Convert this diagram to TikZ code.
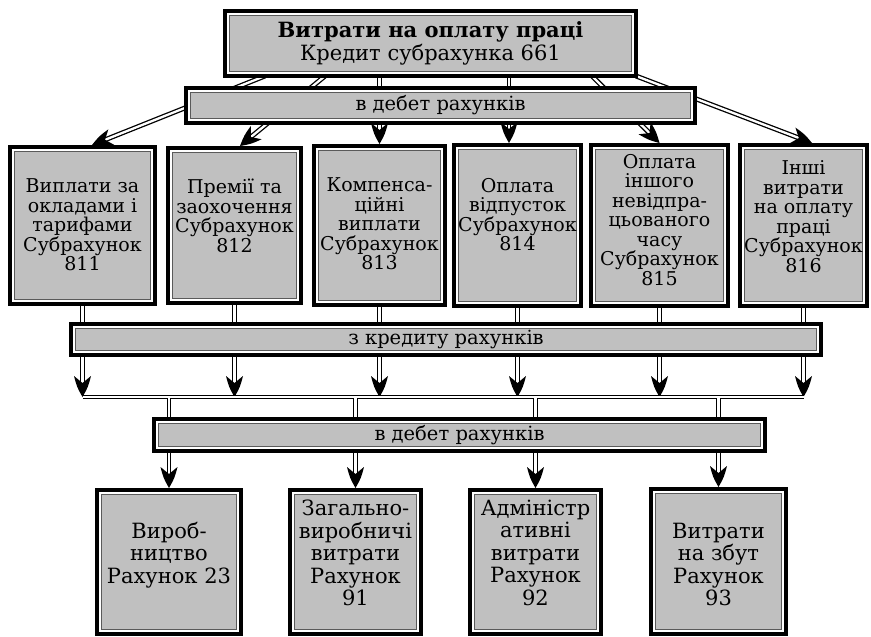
\documentclass[tikz,border=0pt]{standalone}
\usepackage{fontspec}
\setmainfont{DejaVu Serif}
\usetikzlibrary{calc}
\pgfdeclarelayer{links}
\pgfsetlayers{links,main}
\definecolor{panelgray}{HTML}{C0C0C0}
\definecolor{rimgray}{HTML}{5A5A5A}
% text block of a panel: width, height, space above the first line, lines
\newcommand\cell[4]{\parbox[c][#2pt][t]{#1pt}{\centering\vspace*{#3pt}#4\par}}
% double connector ending in a solid swept black head
\newcommand\arrowlink[2]{%
  \draw[link, shorten >=11pt] #1 -- #2;
  \coordinate (hb) at ($#2!21pt!#1$);
  \coordinate (hm) at ($#2!10pt!#1$);
  \coordinate (hn) at ($#2!14pt!#1$);
  \fill[black] #2 .. controls ($(hm)!5.6pt!90:#2$) .. ($(hb)!8.5pt!90:#2$)
    -- (hn) -- ($(hb)!8.5pt!-90:#2$) .. controls ($(hm)!5.6pt!-90:#2$) .. #2 -- cycle;}
\tikzset{
  panel/.style={draw=black, line width=4pt, fill=panelgray, inner sep=0pt, outer sep=0pt,
    path picture={
      \draw[white, line width=2pt]
        ([shift={(3pt,3pt)}]path picture bounding box.south west) rectangle
        ([shift={(-3pt,-3pt)}]path picture bounding box.north east);
      \draw[rimgray, line width=1.3pt]
        ([shift={(4.6pt,4.6pt)}]path picture bounding box.south west) rectangle
        ([shift={(-4.6pt,-4.6pt)}]path picture bounding box.north east);
    }},
  midtext/.style={font=\fontsize{19}{19.5}\selectfont},
  bartext/.style={font=\fontsize{19.5}{21}\selectfont},
  lowtext/.style={font=\fontsize{21}{22.5}\selectfont},
  link/.style={draw=black, line width=1.3pt, double=white, double distance=2.3pt}
}
\begin{document}
\begin{tikzpicture}[x=1pt,y=-1pt]
\useasboundingbox (0,0) rectangle (871,637);

% head panel and the debit bar below it
\node[panel, minimum width=411pt, minimum height=65pt, align=center,
      font=\fontsize{21}{23}\selectfont] (top) at (430.5,43.5)
  {{\bfseries Витрати на оплату праці}\\Кредит субрахунка 661};
\node[panel, minimum width=509pt, minimum height=35pt, bartext] (deb1) at (440.5,105.5)
  {в дебет рахунків};

% sub-accounts 811--816
\node[panel, midtext] (r1) at (82.5,225.5)
  {\cell{145}{157}{32}{Виплати за\\окладами і\\тарифами\\Субрахунок\\811}};
\node[panel, midtext] (r2) at (234.5,225.5)
  {\cell{133}{155}{31}{Премії та\\заохочення\\Субрахунок\\812}};
\node[panel, midtext] (r3) at (379.5,225.5)
  {\cell{131}{159}{32}{Компенса-\\ційні\\виплати\\Субрахунок\\813}};
\node[panel, midtext] (r4) at (517.5,225.5)
  {\cell{127}{161}{33}{Оплата\\відпусток\\Субрахунок\\814}};
\node[panel, midtext] (r5) at (659.5,225.5)
  {\cell{137}{161}{9}{Оплата\\іншого\\невідпра-\\цьованого\\часу\\Субрахунок\\815}};
\node[panel, midtext] (r6) at (803.5,225.5)
  {\cell{127}{161}{16}{Інші\\витрати\\на оплату\\праці\\Субрахунок\\816}};

% credit bar, collecting line and debit bar
\node[panel, minimum width=750pt, minimum height=31pt, bartext] (cred) at (446,339.5)
  {з кредиту рахунків};
\coordinate (bus) at (0,397);
\node[panel, minimum width=611pt, minimum height=32pt, bartext] (deb2) at (459.5,435)
  {в дебет рахунків};

% expense accounts
\node[panel, lowtext] (b1) at (169,562)
  {\cell{144}{144}{32}{Вироб-\\ництво\\Рахунок 23}};
\node[panel, lowtext] (b2) at (355.5,562)
  {\cell{131}{144}{10}{Загально-\\виробничі\\витрати\\Рахунок\\91}};
\node[panel, lowtext] (b3) at (535.5,562)
  {\cell{131}{144}{10}{Адміністр\\ативні\\витрати\\Рахунок\\92}};
\node[panel, lowtext] (b4) at (718.5,561.5)
  {\cell{135}{145}{34}{Витрати\\на збут\\Рахунок\\93}};

\begin{pgfonlayer}{links}
  % from the head panel to the sub-accounts
  \arrowlink{($(top.south west)+(40,0)$)}{($(r1.north)+(9.5,-2)$)}
  \arrowlink{($(top.south west)+(100,0)$)}{($(r2.north)+(5.5,-2)$)}
  \arrowlink{(top.south -| r3.north)}{($(r3.north)+(0,-2)$)}
  \arrowlink{($(top.south west)+(284,0)$)}{($(r4.north)+(-8.5,-2)$)}
  \arrowlink{($(top.south west)+(367,0)$)}{($(r5.north)+(0,-2)$)}
  \arrowlink{(top.south east)}{($(r6.north)+(8.5,-2)$)}
  % the collecting line, then the drops onto it and the drops from it
  \draw[link] (r1.south |- bus) -- (r6.south |- bus);
  \foreach \r in {r1,r2,r3,r4,r5,r6}
    {\arrowlink{(\r.south)}{(\r.south |- bus)}}
  \foreach \b in {b1,b2,b3,b4}
    {\arrowlink{(\b.north |- bus)}{($(\b.north)+(0,-2)$)}}
  % keep the collecting line open where the drops leave it
  \draw[white, line width=2.3pt] (r1.south |- bus) -- (r6.south |- bus);
\end{pgfonlayer}
\end{tikzpicture}
\end{document}
